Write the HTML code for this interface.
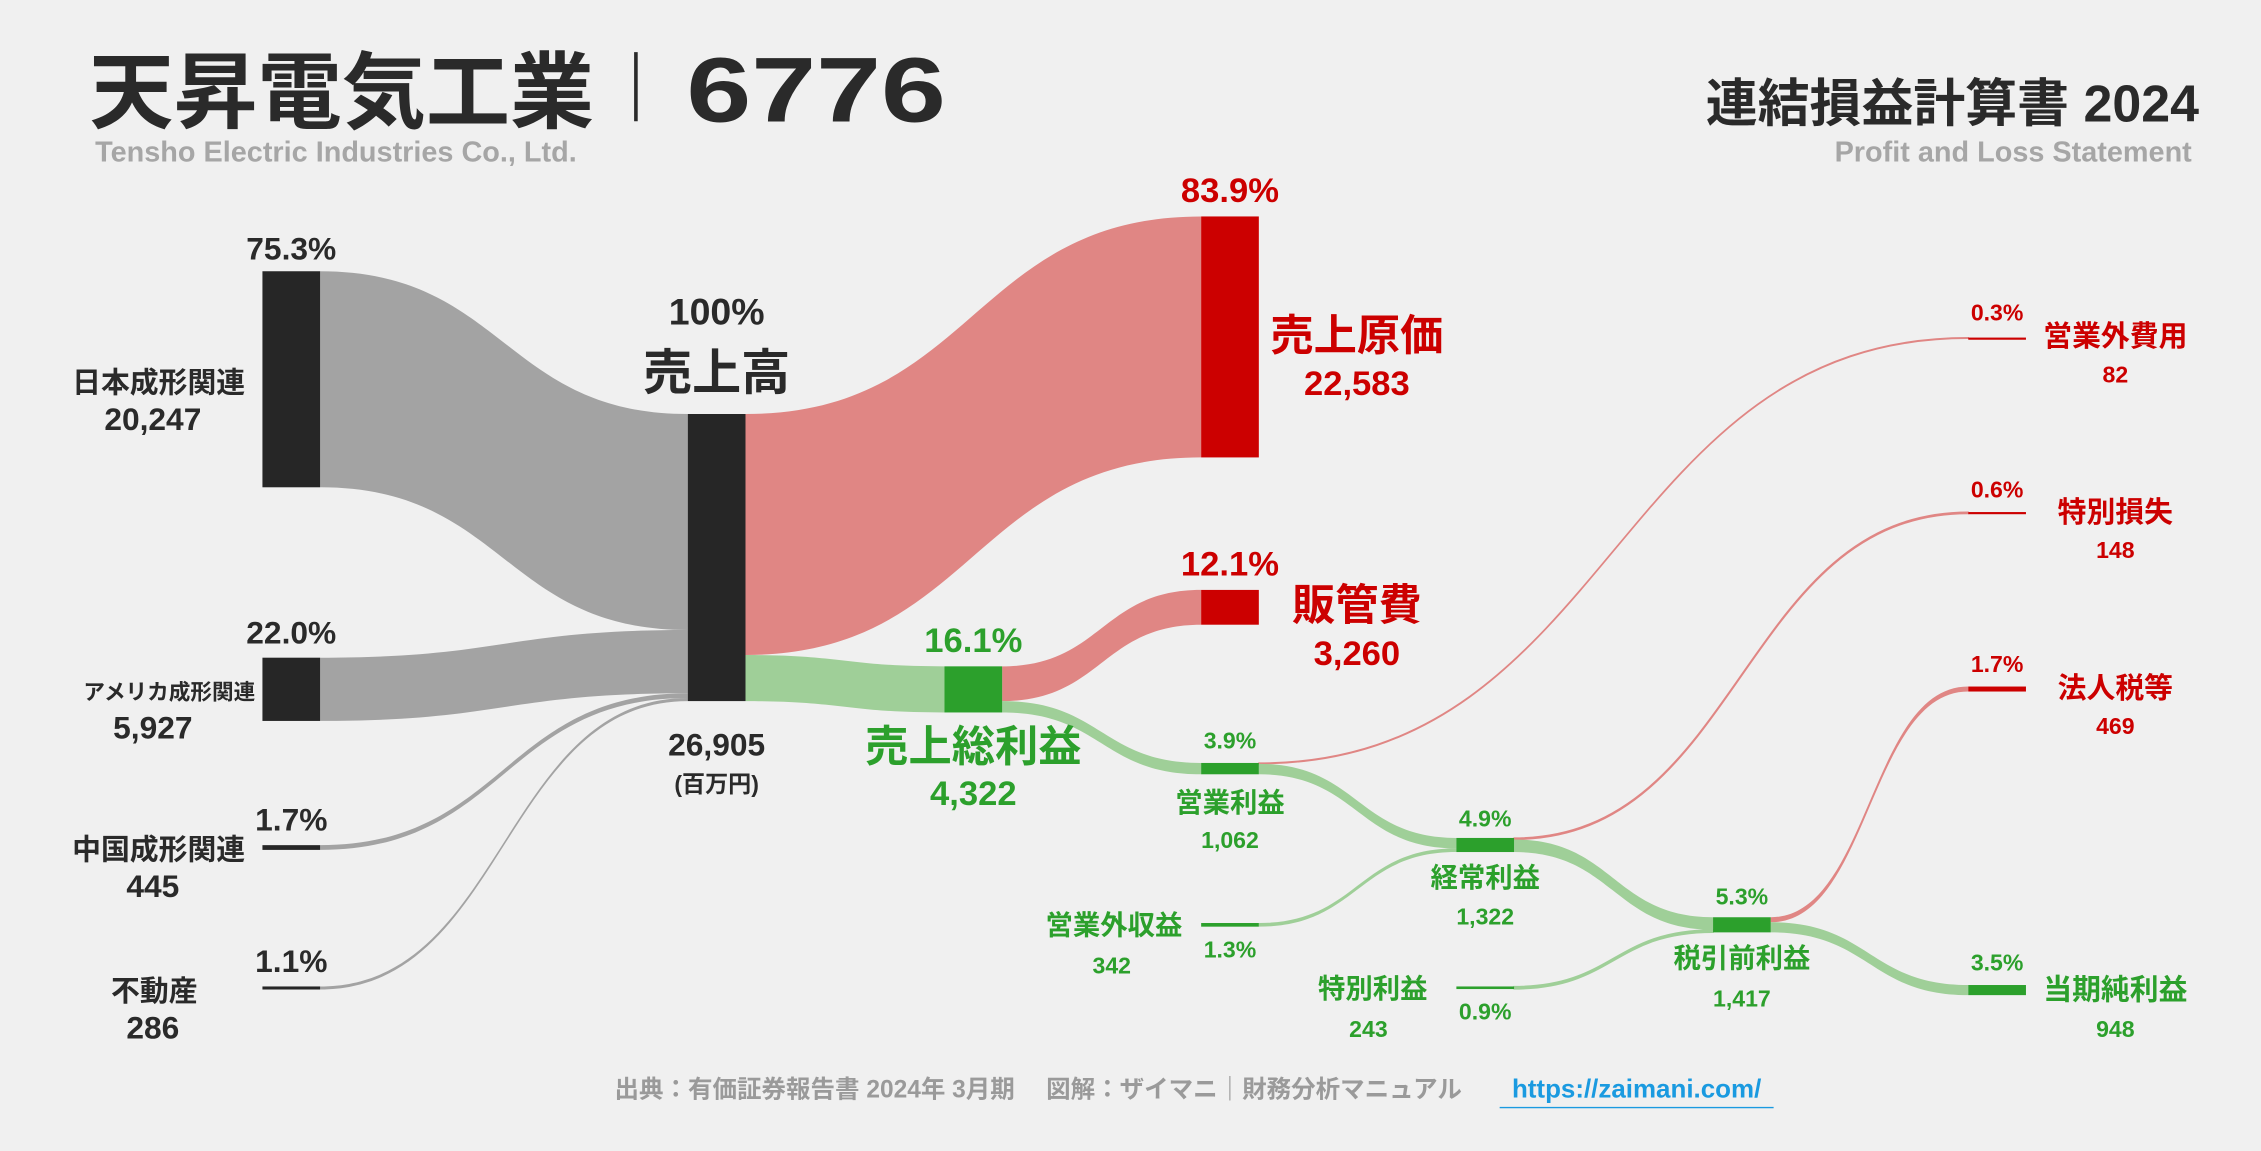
<!DOCTYPE html>
<html><head><meta charset="utf-8">
<style>
html,body{margin:0;padding:0;background:#f0f0f0;}
svg{display:block;font-family:"Liberation Sans","Noto Sans CJK JP",sans-serif;font-weight:bold;}
</style></head>
<body>
<svg id="chart" width="2261" height="1151" viewBox="0 0 1568 798" xmlns="http://www.w3.org/2000/svg">
<rect width="1568" height="798" fill="#f0f0f0"/>
<text x="62" y="84" font-size="58" fill="#2a2a2a" textLength="350" lengthAdjust="spacingAndGlyphs">天昇電気工業</text>
<line x1="441" y1="36" x2="441" y2="84" stroke="#2a2a2a" stroke-width="2.5"/>
<text x="476" y="84" font-size="64" fill="#2a2a2a" textLength="180" lengthAdjust="spacingAndGlyphs">6776</text>
<text x="66" y="112" font-size="20" fill="#a6a6a6">Tensho Electric Industries Co., Ltd.</text>
<text x="1525" y="84" font-size="36" fill="#2a2a2a" text-anchor="end">連結損益計算書 2024</text>
<text x="1520" y="112" font-size="20" fill="#a6a6a6" text-anchor="end">Profit and Loss Statement</text>
<g id="links"></g>
<g id="nodes"></g>
<g id="labels"></g>
<text x="720" y="761" font-size="17" fill="#9a9a9a" text-anchor="middle">出典：有価証券報告書 2024年 3月期　 図解：ザイマニ｜財務分析マニュアル</text>
<text x="1135" y="761" font-size="18" fill="#1a9ae0" text-anchor="middle">https://zaimani.com/</text>
<line x1="1040" y1="768" x2="1230" y2="768" stroke="#1a9ae0" stroke-width="1"/>
</svg>
<script>
const nodeNames = ["日本成形関連","アメリカ成形関連","中国成形関連","不動産","売上高","売上原価","販管費","売上総利益","営業利益","営業外費用","営業外収益","経常利益","特別損失","特別利益","税引前利益","法人税等","当期純利益"];
const nodeValues = [20247,5927,445,286,26905,22583,3260,4322,1062,82,342,1322,148,243,1417,469,948];
const linkSources = [0,1,2,3,4,4,7,7,8,8,10,11,11,13,14,14];
const linkTargets = [4,4,4,4,5,7,6,8,9,11,11,12,14,14,15,16];
const linkValues = [20247,5927,445,286,22583,4322,3260,1062,82,980,342,148,1174,243,469,948];
const total = 26905;

const K = 0.0074;
const nodeX = [182,182,182,182,477,833,833,655,833,1365,833,1010,1365,1010,1188,1365,1365];
const nodeTop = [188,456,586,684,287,150,409,462,529,234,640,581,355,684,636,476,683];
const nodeKind = ["k","k","k","k","k","r","r","g","g","r","g","g","r","g","g","r","g"];
const W = 40;
const fills = {k:"#262626", r:"#cc0000", g:"#2ca02c"};
const flowFills = {k:"#a3a3a3", r:"#e08684", g:"#9fcf98"};
const NS = "http://www.w3.org/2000/svg";
const fmt = v => v.toLocaleString("en-US");
const pct = v => (v/total*100).toFixed(1)+"%";
const h = i => Math.max(nodeValues[i]*K, 1.5);

const outOff = nodeValues.map(()=>0), inOff = nodeValues.map(()=>0);
const linksG = document.getElementById("links");
for (let j=0;j<linkValues.length;j++){
  const s=linkSources[j], t=linkTargets[j];
  const th = Math.max(linkValues[j]*K, 0.6);
  const x0 = nodeX[s]+W, x1 = nodeX[t];
  const y0 = nodeTop[s]+outOff[s], y1 = nodeTop[t]+inOff[t];
  outOff[s]+=linkValues[j]*K; inOff[t]+=linkValues[j]*K;
  const mx=(x0+x1)/2;
  const p=document.createElementNS(NS,"path");
  p.setAttribute("d",`M${x0},${y0} C${mx},${y0} ${mx},${y1} ${x1},${y1} L${x1},${y1+th} C${mx},${y1+th} ${mx},${y0+th} ${x0},${y0+th} Z`);
  p.setAttribute("fill",flowFills[nodeKind[t]]);
  
  
  if (th<2){p.setAttribute("stroke",flowFills[nodeKind[t]]);p.setAttribute("stroke-width","0.8");}
  linksG.appendChild(p);
}
const nodesG=document.getElementById("nodes");
for (let i=0;i<nodeValues.length;i++){
  const r=document.createElementNS(NS,"rect");
  r.setAttribute("x",nodeX[i]); r.setAttribute("y",nodeTop[i]);
  r.setAttribute("width",W); r.setAttribute("height",h(i));
  r.setAttribute("fill",fills[nodeKind[i]]);
  
  
  nodesG.appendChild(r);
}
const L = [
 [202,180,22, 170,272,20,"end", 106,298,22],
 [202,446,22, 177,485,15,"end", 106,512,22],
 [202,576,22, 170,596,20,"end", 106,622,22],
 [202,674,22, 137,694,20,"end", 106,720,22],
 [497,225,26, 497,270,34,"middle", 497,524,22],
 [853,140,24, 941,243,30,"middle", 941,274,24],
 [853,399,24, 941,430,30,"middle", 941,461,24],
 [675,452,24, 675,528,30,"middle", 675,558,24],
 [853,519,16, 853,563,19,"middle", 853,588,16],
 [1385,222,16, 1467,240,20,"middle", 1467,265,16],
 [853,664,16, 820,648,19,"end", 771,675,16],
 [1030,573,16, 1030,615,19,"middle", 1030,641,16],
 [1385,345,16, 1467,362,20,"middle", 1467,387,16],
 [1030,707,16, 990,692,19,"end", 949,719,16],
 [1208,627,16, 1208,671,19,"middle", 1208,698,16],
 [1385,466,16, 1467,484,20,"middle", 1467,509,16],
 [1385,673,16, 1467,693,20,"middle", 1467,719,16]
];
const labelsG=document.getElementById("labels");
function addText(x,y,size,anchor,fill,str,name){
  const t=document.createElementNS(NS,"text");
  t.setAttribute("x",x);t.setAttribute("y",y);t.setAttribute("font-size",size);
  t.setAttribute("text-anchor",anchor);t.setAttribute("fill",fill);
  t.textContent=str;
  
  
  labelsG.appendChild(t);
}
for (let i=0;i<nodeValues.length;i++){
  const c = nodeKind[i]==="k"?"#2a2a2a":fills[nodeKind[i]];
  const l=L[i];
  addText(l[0],l[1],l[2],"middle",c,i===4?"100%":pct(nodeValues[i]),"pct-label-"+i);
  addText(l[3],l[4],l[5],l[6],c,nodeNames[i],"name-label-"+i);
  addText(l[7],l[8],l[9],"middle",c,fmt(nodeValues[i]),"value-label-"+i);
}
addText(497,549,16,"middle","#2a2a2a","(百万円)","unit-label");
</script>
</body></html>
